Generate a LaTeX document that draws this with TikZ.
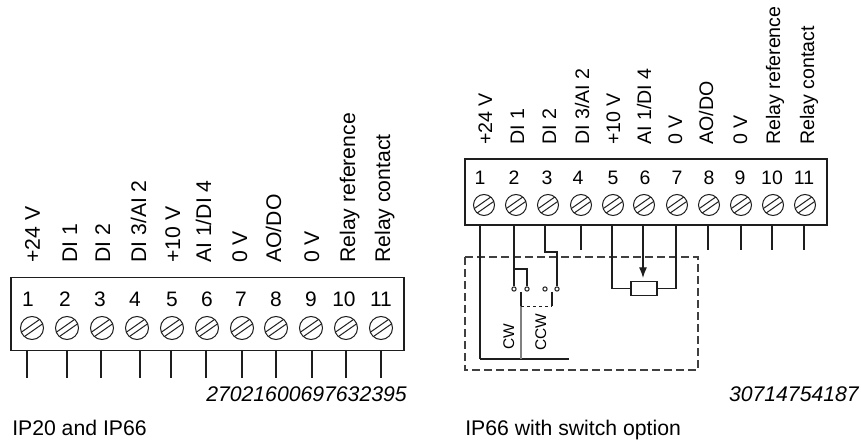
\documentclass[tikz,border=0pt]{standalone}
\usepackage{fontspec}
\setmainfont{Liberation Sans}
\usetikzlibrary{arrows.meta}
\usetikzlibrary{calc}
\definecolor{inkgray}{RGB}{30, 30, 30}
\tikzset{
    wire/.style={draw=inkgray, line width=0.85pt},
    termbox/.style={draw=inkgray, line width=0.85pt, rectangle, inner sep=0pt},
    screw/.style={draw=inkgray, line width=0.75pt, circle, inner sep=0pt, minimum size=#1,
        path picture={\coordinate (mid) at (path picture bounding box.center);
            \draw[line width=0.75pt] ($(mid)+(125:2pt)+(215:12pt)$) -- ($(mid)+(125:2pt)+(35:12pt)$)
                                     ($(mid)+(305:2pt)+(215:12pt)$) -- ($(mid)+(305:2pt)+(35:12pt)$);}},
    termnum/.style={font=\fontsize{15.7pt}{18pt}\selectfont, anchor=base, inner sep=0pt},
    termnumsmall/.style={font=\fontsize{14.6pt}{17pt}\selectfont, anchor=base, inner sep=0pt},
    termlabel/.style={font=\fontsize{15.9pt}{18pt}\selectfont, anchor=base west, rotate=90, inner sep=0pt},
    termlabelsmall/.style={font=\fontsize{14.7pt}{17pt}\selectfont, anchor=base west, rotate=90, inner sep=0pt},
    switchlabel/.style={font=\fontsize{11.6pt}{13pt}\selectfont, anchor=base west, rotate=90, inner sep=0pt},
    caption/.style={font=\fontsize{15.9pt}{18pt}\selectfont, anchor=base west, inner sep=0pt},
    partno/.style={font=\fontsize{15.9pt}{18pt}\itshape\selectfont, anchor=base east, inner sep=0pt},
    contact/.style={draw=inkgray, line width=0.75pt, circle, fill=white, inner sep=0pt, minimum size=3.2pt},
    switchbox/.style={draw=inkgray!85, line width=0.95pt, dash pattern=on 6pt off 3pt}
}
\begin{document}
\begin{tikzpicture}[x=0.75pt, y=-0.75pt]
    \useasboundingbox (0,0) rectangle (861,441);
    % Left terminal block
    \node[termbox, minimum width=294.75pt, minimum height=54.75pt] (lbox) at (207.5,314) {};
    \foreach \n/\sx/\tx/\wx in {1/32/28/27, 2/67/65/67, 3/102/100/101, 4/137/135/140,
                                5/172/172/171, 6/207/207/206, 7/242/241/242, 8/276/276/276,
                                9/311/311/312, 10/346/344/346, 11/381/381/381} {
        \node[termnum] (lnum\n) at (\tx,307) {\n};
        \node[screw=17.25pt] (lscrew\n) at (\sx,328) {};
        \coordinate (ltop\n) at (\wx,350);
        \coordinate (lend\n) at (\wx,378);
        \draw[wire] (ltop\n) -- (lend\n);
    }
    % Left signal names
    \foreach \n/\bx/\txt in {1/40/{+24 V}, 2/77/{DI 1}, 3/110/{DI 2}, 4/146/{DI 3/AI 2}, 5/180/{+10 V}, 6/211/{AI 1/DI 4},
                             7/247/{0 V}, 8/281/{AO/DO}, 9/319/{0 V}, 10/355/{Relay reference}, 11/390/{Relay contact}} {
        \node[termlabel] (lname\n) at (\bx,263) {\txt};
    }
    % Right terminal block
    \node[termbox, minimum width=271.5pt, minimum height=49.5pt] (rbox) at (646,192) {};
    \foreach \n/\sx/\tx/\wx in {1/484/480/480, 2/516/514/514, 3/548/547/545, 4/581/578/581,
                                5/613/613/612, 6/644/645/643, 7/677/677/676, 8/709/709/708,
                                9/741/740/741, 10/773/772/772, 11/805/804/804} {
        \node[termnumsmall] (rnum\n) at (\tx,185) {\n};
        \node[screw=15.75pt] (rscrew\n) at (\sx,205) {};
        \coordinate (rtop\n) at (\wx,225);
    }
    % Right signal names
    \foreach \n/\bx/\txt in {1/492/{+24 V}, 2/524/{DI 1}, 3/556/{DI 2}, 4/589/{DI 3/AI 2}, 5/620/{+10 V}, 6/651/{AI 1/DI 4},
                             7/682/{0 V}, 8/713/{AO/DO}, 9/747/{0 V}, 10/780/{Relay reference}, 11/814/{Relay contact}} {
        \node[termlabelsmall] (rname\n) at (\bx,145) {\txt};
    }
    % Unused right terminals
    \foreach \n in {4,8,9,10,11} {
        \coordinate (rend\n) at ($(rtop\n)+(0,25)$);
        \draw[wire] (rtop\n) -- (rend\n);
    }
    % Switch option frame
    \draw[switchbox] (465,257) rectangle (698,370);
    % Switch contacts
    \node[contact] (c1) at (514,289) {};
    \node[contact] (c2) at (527,289) {};
    \node[contact] (c3) at (545,289) {};
    \node[contact] (c4) at (557,289) {};
    \coordinate (bar1) at (480,359);
    \coordinate (bar2) at (569,359);
    \coordinate (tap1) at (514,269);
    \coordinate (tap2) at (527,269);
    \coordinate (jog1) at (545,252);
    \coordinate (jog2) at (557,252);
    \coordinate (cw1)  at (521,292);
    \coordinate (cw2)  at (521,306);
    \coordinate (cw3)  at (521,359);
    \coordinate (ccw1) at (552,292);
    \coordinate (ccw2) at (552,306);
    % Switch wiring
    \draw[wire] (rtop1) -- (bar1);
    \draw[wire] (rtop2) -- (c1);
    \draw[wire] (tap1) -- (tap2) -- (c2);
    \draw[wire] (rtop3) -- (jog1) -- (jog2) -- (c4);
    \draw[wire, line width=1.2pt] (bar1) -- (bar2);
    \draw[wire] (cw1) -- (cw2);
    \draw[draw=gray, line width=0.85pt] (cw2) -- (cw3);
    \draw[wire] (ccw1) -- (ccw2);
    \draw[draw=inkgray, line width=0.6pt, dash pattern=on 2.5pt off 2pt] (cw2) -- (ccw2);
    \node[switchlabel] (cwlabel) at (514,350) {CW};
    \node[switchlabel] (ccwlabel) at (546,351) {CCW};
    % Potentiometer
    \node[draw=inkgray, line width=0.85pt, rectangle, inner sep=0pt, minimum width=19.5pt, minimum height=10pt] (pot) at (644,288.5) {};
    \draw[wire] (rtop5) |- (pot.west);
    \draw[wire] (rtop7) |- (pot.east);
    \coordinate (wiper) at (643,278);
    \draw[wire, -{Latex[length=8pt, width=6pt]}] (rtop6) -- (wiper);
    % Part numbers and captions
    \node[partno] (lpart) at (407,402) {27021600697632395};
    \node[partno] (rpart) at (859,402) {30714754187};
    \node[caption] (lcap) at (12,436) {IP20 and IP66};
    \node[caption] (rcap) at (465,436) {IP66 with switch option};
\end{tikzpicture}
\end{document}
